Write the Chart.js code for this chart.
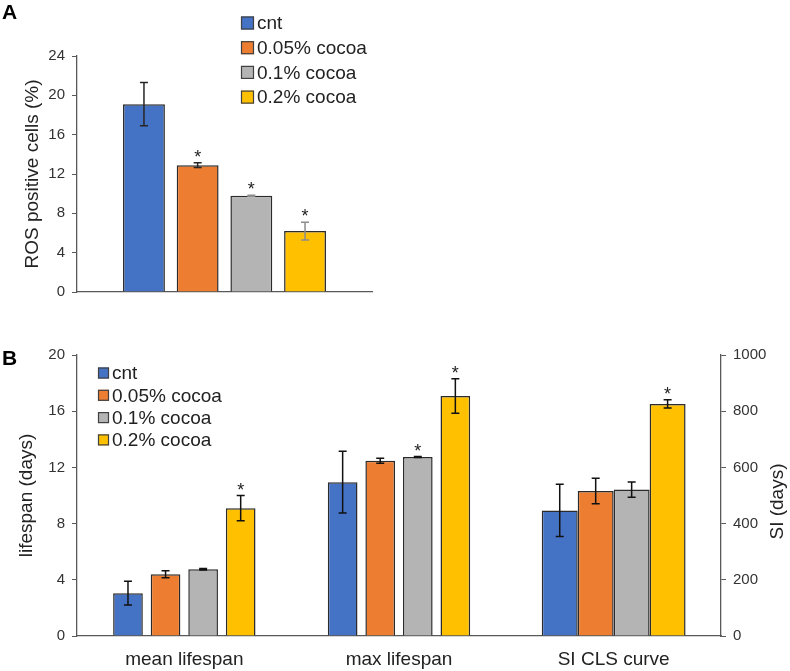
<!DOCTYPE html>
<html>
<head>
<meta charset="utf-8">
<script src="https://cdn.jsdelivr.net/npm/chart.js@4.4.1/dist/chart.umd.min.js"></script>
<style>
  body { margin: 0; background: #fff; width: 790px; height: 671px; position: relative; overflow: hidden; font-family: "Liberation Sans", Arial, sans-serif; }
  .panel { position: absolute; left: 0; }
  .tag { position: absolute; left: 2px; font-weight: bold; font-size: 21px; line-height: 21px; color: #000; }
</style>
</head>
<body>
<canvas id="chartA" class="panel" style="top:0" width="790" height="310"></canvas>
<canvas id="chartB" class="panel" style="top:320px" width="790" height="351"></canvas>
<div class="tag" style="top:1px">A</div>
<div class="tag" style="top:347px">B</div>
<script>
const seriesNames = ['cnt', '0.05% cocoa', '0.1% cocoa', '0.2% cocoa']
const seriesColors = ['#4472C4', '#ED7D31', '#B4B4B4', '#FFC000']

// panel A - ROS positive cells (%)
const rosValues = [19.1, 12.9, 9.8, 6.2]
const rosErrors = [2.2, 0.25, 0.05, 0.9]
const rosStars = [false, true, true, true]

// panel B - lifespan (days) left axis, SI (days) right axis
const categoriesB = ['mean lifespan', 'max lifespan', 'SI CLS curve']
const meanLifespan = [3.05, 4.4, 4.75, 9.1]
const meanLifespanErr = [0.85, 0.25, 0.05, 0.9]
const meanStars = [false, false, false, true]
const maxLifespan = [10.95, 12.48, 12.74, 17.08]
const maxLifespanErr = [2.2, 0.18, 0.03, 1.23]
const maxStars = [false, false, true, true]
const siCls = [447, 516, 521, 826]
const siClsErr = [93, 45, 27, 15]
const siStars = [false, false, false, true]

const fontFamily = '"Liberation Sans", Arial, sans-serif'
Chart.defaults.font.family = fontFamily
Chart.defaults.color = '#333'

// error bars + significance stars, drawn from the dataset values through the y scale
const errorBars = {
    id: 'errorBars',
    afterDatasetsDraw(chart) {
        const ctx = chart.ctx
        chart.data.datasets.forEach((ds, i) => {
            const meta = chart.getDatasetMeta(i)
            const yScale = chart.scales[meta.yAxisID]
            meta.data.forEach((bar, j) => {
                const v = ds.data[j]
                if (v == null) return
                const e = ds.errors[j]
                const top = yScale.getPixelForValue(v + e)
                const bot = yScale.getPixelForValue(v - e)
                ctx.save()
                ctx.strokeStyle = ds.errorColor
                ctx.lineWidth = 1.5
                ctx.beginPath()
                ctx.moveTo(bar.x, top); ctx.lineTo(bar.x, bot)
                ctx.moveTo(bar.x - 4, top); ctx.lineTo(bar.x + 4, top)
                ctx.moveTo(bar.x - 4, bot); ctx.lineTo(bar.x + 4, bot)
                ctx.stroke()
                if (ds.stars[j]) {
                    ctx.fillStyle = '#222'
                    ctx.font = '18px ' + fontFamily
                    ctx.textAlign = 'center'
                    ctx.textBaseline = 'alphabetic'
                    ctx.fillText('*', bar.x, top)
                }
                ctx.restore()
            })
        })
    }
}

// legend drawn inside the plot, like the excel one
const boxLegend = {
    id: 'boxLegend',
    afterDraw(chart, args, opts) {
        const ctx = chart.ctx
        ctx.save()
        ctx.font = '19px ' + fontFamily
        ctx.textBaseline = 'middle'
        ctx.textAlign = 'left'
        chart.data.datasets.slice(0, 4).forEach((ds, i) => {
            const y = opts.y + i * opts.gap
            ctx.fillStyle = ds.backgroundColor
            ctx.fillRect(opts.x, y - opts.box / 2, opts.box, opts.box)
            ctx.strokeStyle = '#404040'
            ctx.lineWidth = 1.2
            ctx.strokeRect(opts.x + 0.5, y - opts.box / 2 + 0.5, opts.box - 1, opts.box - 1)
            ctx.fillStyle = '#222'
            ctx.fillText(ds.label, opts.x + opts.box + 3, y + 1)
        })
        ctx.restore()
    }
}

// right axis title reads bottom to top
const rightTitle = {
    id: 'rightTitle',
    afterDraw(chart, args, opts) {
        const ctx = chart.ctx
        const area = chart.chartArea
        ctx.save()
        ctx.translate(chart.width - 12, (area.top + area.bottom) / 2 + 6)
        ctx.rotate(-Math.PI / 2)
        ctx.font = '19px ' + fontFamily
        ctx.fillStyle = '#222'
        ctx.textAlign = 'center'
        ctx.textBaseline = 'middle'
        ctx.fillText(opts.text, 0, 0)
        ctx.restore()
    }
}

const axisColor = '#595959'

new Chart(document.getElementById('chartA'), {
    type: 'bar',
    data: {
        labels: [''],
        datasets: seriesNames.map((name, i) => ({
            label: name,
            data: [rosValues[i]],
            errors: [rosErrors[i]],
            stars: [rosStars[i]],
            errorColor: i < 2 ? '#262626' : '#8c8c8c',
            backgroundColor: seriesColors[i],
            borderColor: '#2b2b2b',
            borderWidth: 1.5,
            categoryPercentage: 0.728,
            barPercentage: 0.78
        }))
    },
    options: {
        responsive: false,
        animation: false,
        layout: { padding: { top: 56, right: 418, bottom: 18, left: 0 } },
        plugins: {
            legend: { display: false },
            tooltip: { enabled: false },
            boxLegend: { x: 241, y: 23, gap: 24.7, box: 13 }
        },
        scales: {
            x: {
                grid: { display: false, drawTicks: false },
                ticks: { display: false },
                border: { color: axisColor, width: 1.3 },
                afterFit: s => { s.height = 0 }
            },
            y: {
                min: 0, max: 24,
                ticks: { stepSize: 4, padding: 7, font: { size: 15 } },
                grid: { drawOnChartArea: false, tickLength: 5, color: axisColor },
                border: { color: axisColor, width: 1.3 },
                title: { display: true, text: 'ROS positive cells (%)', color: '#222', font: { size: 19 }, padding: { top: 21.6, bottom: 0 } },
                afterFit: s => { s.width = 77 }
            }
        }
    },
    plugins: [errorBars, boxLegend]
})

const leftSets = seriesNames.map((name, i) => ({
    label: name,
    yAxisID: 'y',
    data: [meanLifespan[i], maxLifespan[i], null],
    errors: [meanLifespanErr[i], maxLifespanErr[i], null],
    stars: [meanStars[i], maxStars[i], false],
    errorColor: '#111',
    backgroundColor: seriesColors[i],
    borderColor: '#2b2b2b',
    borderWidth: 1.5,
    categoryPercentage: 0.70,
    barPercentage: 0.79,
    skipNull: true
}))
const rightSets = seriesNames.map((name, i) => ({
    label: name,
    yAxisID: 'y2',
    data: [null, null, siCls[i]],
    errors: [null, null, siClsErr[i]],
    stars: [false, false, siStars[i]],
    errorColor: '#111',
    backgroundColor: seriesColors[i],
    borderColor: '#2b2b2b',
    borderWidth: 1.5,
    categoryPercentage: 0.67,
    barPercentage: 1,
    skipNull: true
}))

new Chart(document.getElementById('chartB'), {
    type: 'bar',
    data: {
        labels: categoriesB,
        datasets: leftSets.concat(rightSets)
    },
    options: {
        responsive: false,
        animation: false,
        layout: { padding: { top: 35, right: 0, bottom: 0, left: 0 } },
        plugins: {
            legend: { display: false },
            tooltip: { enabled: false },
            boxLegend: { x: 98, y: 53, gap: 22.3, box: 11 },
            rightTitle: { text: 'SI (days)' }
        },
        scales: {
            x: {
                grid: { display: false, drawTicks: false },
                ticks: { padding: 12, color: '#222', font: { size: 19 } },
                border: { color: axisColor, width: 1.3 },
                afterFit: s => { s.height = 35 }
            },
            y: {
                position: 'left',
                min: 0, max: 20,
                ticks: { stepSize: 4, padding: 7, font: { size: 15 } },
                grid: { drawOnChartArea: false, tickLength: 5, color: axisColor },
                border: { color: axisColor, width: 1.3 },
                title: { display: true, text: 'lifespan (days)', color: '#222', font: { size: 19 }, padding: { top: 15.6, bottom: 0 } },
                afterFit: s => { s.width = 77 }
            },
            y2: {
                position: 'right',
                min: 0, max: 1000,
                ticks: { stepSize: 200, padding: 7, font: { size: 15 }, callback: v => String(v) },
                grid: { drawOnChartArea: false, tickLength: 5, color: axisColor },
                border: { color: axisColor, width: 1.3 },
                afterFit: s => { s.width = 69 }
            }
        }
    },
    plugins: [errorBars, boxLegend, rightTitle]
})
</script>
</body>
</html>
